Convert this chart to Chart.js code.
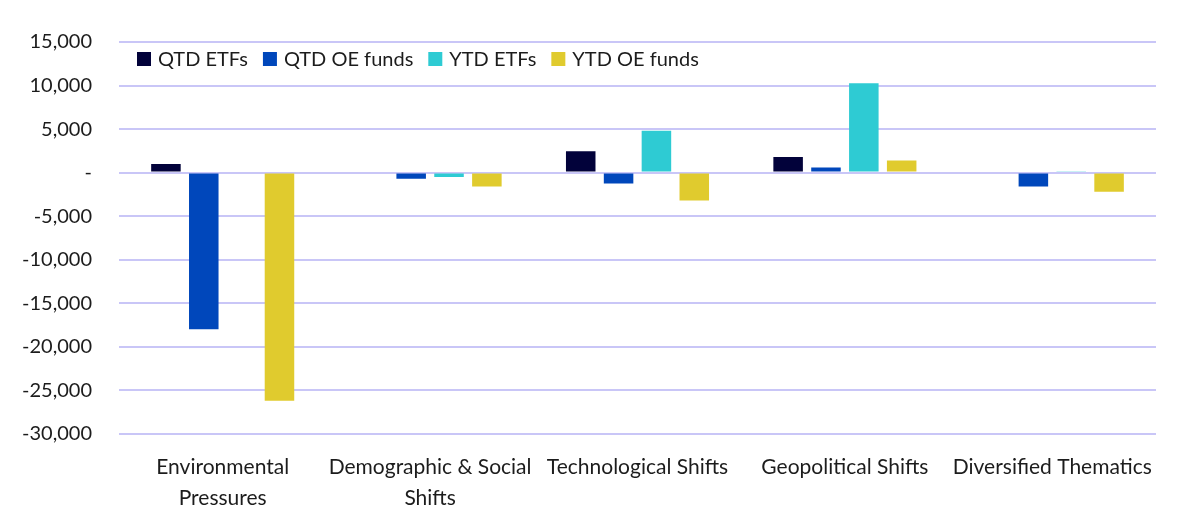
<!DOCTYPE html>
<html>
<head>
<meta charset="utf-8">
<script src="https://cdn.jsdelivr.net/npm/chart.js@4.4.1/dist/chart.umd.min.js"></script>
<style>
  html, body { margin: 0; padding: 0; background: #ffffff; }
  #wrap { width: 1200px; height: 531px; }
</style>
</head>
<body>
<div id="wrap"><canvas id="flowsChart"></canvas></div>
<script>
// ======================== DATA ========================

const categories = [
  ["Environmental", "Pressures"],
  ["Demographic & Social", "Shifts"],
  "Technological Shifts",
  "Geopolitical Shifts",
  "Diversified Thematics"
];

const qtdEtfs = [1000, 0, 2450, 1800, 0];
const qtdOeFunds = [-18000, -700, -1250, 600, -1600];
const ytdEtfs = [0, -500, 4800, 10250, 150];
const ytdOeFunds = [-26200, -1600, -3200, 1400, -2200];

const yTicks = [15000, 10000, 5000, 0, -5000, -10000, -15000, -20000, -25000, -30000];

// ======================== CHART ========================

const FONT = "Lato";
const TEXT_COLOR = "#1c1c1c";

function fmtTick(v) {
  if (v === 0) return "-";
  return v.toLocaleString("en-US");
}

// legend drawn inside the plot area, in one row, like the original
const inlineLegend = {
  id: "inlineLegend",
  afterDraw(chart) {
    const { ctx, chartArea } = chart;
    const box = 14;
    let x = chartArea.left + 18;
    const y = chartArea.top + 17;
    ctx.save();
    ctx.font = `20px ${FONT}`;
    ctx.textBaseline = "middle";
    ctx.textAlign = "left";
    chart.data.datasets.forEach((ds) => {
      ctx.fillStyle = ds.backgroundColor;
      ctx.fillRect(x, y - box / 2, box, box);
      x += box + 7;
      ctx.fillStyle = TEXT_COLOR;
      ctx.fillText(ds.label, x, y + 1);
      x += ctx.measureText(ds.label).width + 15;
    });
    ctx.restore();
  }
};

const ctx = document.getElementById("flowsChart").getContext("2d");

new Chart(ctx, {
  type: "bar",
  data: {
    labels: categories,
    datasets: [
      { label: "QTD ETFs", data: qtdEtfs, backgroundColor: "#02023a" },
      { label: "QTD OE funds", data: qtdOeFunds, backgroundColor: "#0047bb" },
      { label: "YTD ETFs", data: ytdEtfs, backgroundColor: "#2ecbd3" },
      { label: "YTD OE funds", data: ytdOeFunds, backgroundColor: "#e0cb2e" }
    ]
  },
  plugins: [inlineLegend],
  options: {
    responsive: true,
    maintainAspectRatio: false,
    animation: false,
    datasets: {
      bar: { categoryPercentage: 0.73, barPercentage: 0.78 }
    },
    layout: { padding: { top: 42, right: 44, bottom: 7, left: 0 } },
    plugins: {
      tooltip: { enabled: false },
      legend: { display: false }
    },
    scales: {
      x: {
        grid: { display: false },
        border: { display: false },
        ticks: {
          color: TEXT_COLOR,
          padding: 10,
          maxRotation: 0,
          autoSkip: false,
          font: { family: FONT, size: 21, lineHeight: 1.48 }
        }
      },
      y: {
        min: -30000,
        max: 15000,
        afterFit: (scale) => { scale.width = 119; },
        afterBuildTicks: (scale) => {
          scale.ticks = yTicks.map((v) => ({ value: v }));
        },
        grid: { color: "#c9c6f7", lineWidth: 2, drawTicks: false },
        border: { display: false },
        ticks: {
          color: TEXT_COLOR,
          padding: 27,
          callback: (v) => fmtTick(v),
          font: { family: FONT, size: 20 }
        }
      }
    }
  }
});
</script>
</body>
</html>
